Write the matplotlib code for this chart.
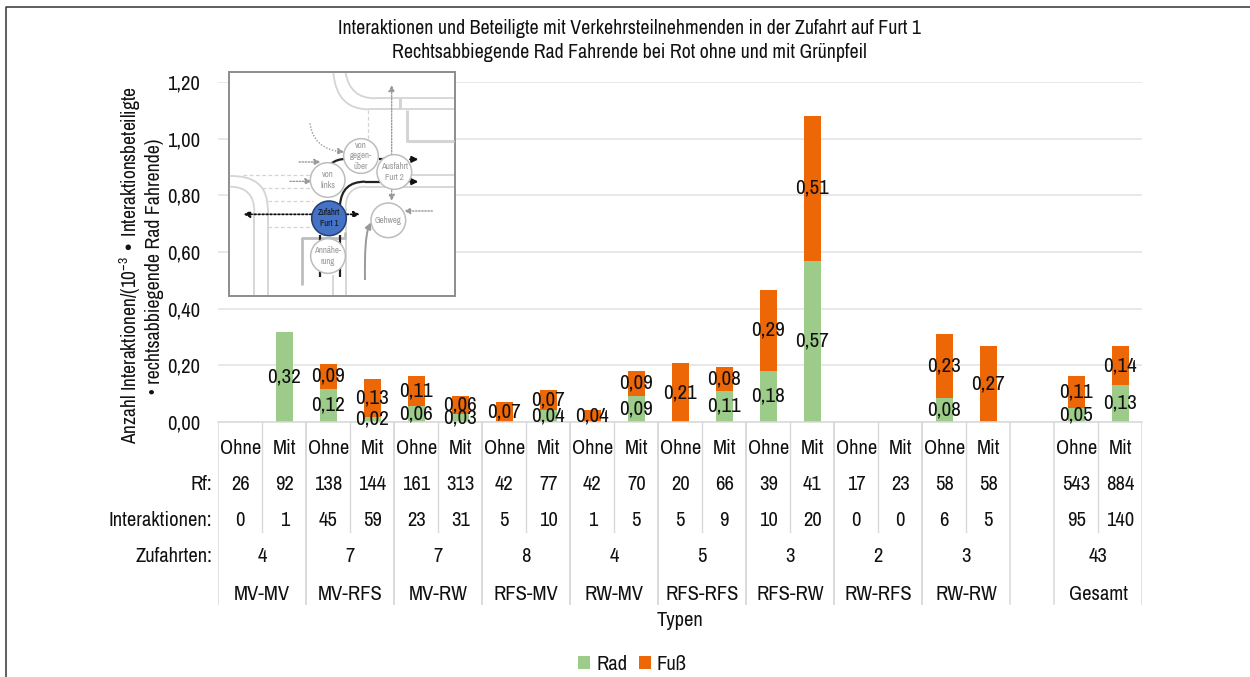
"""
Interaktionen je Typ (Zufahrt auf Furt 1) - gestapelte Balken mit Tabelle und Skizze
"""
import numpy as np
import matplotlib
matplotlib.use('Agg')
import matplotlib.pyplot as plt
from matplotlib.lines import Line2D
from matplotlib.patches import Circle, PathPatch, Rectangle
from matplotlib.path import Path

plt.rcParams['font.family'] = ['Archivo Narrow', 'Liberation Sans', 'DejaVu Sans']
plt.rcParams['mathtext.default'] = 'regular'

# Data
typen = ['MV-MV', 'MV-RFS', 'MV-RW', 'RFS-MV', 'RW-MV', 'RFS-RFS', 'RFS-RW', 'RW-RFS', 'RW-RW', 'Gesamt']
zufahrten = [4, 7, 7, 8, 4, 5, 3, 2, 3, 43]
varianten = ['Ohne', 'Mit'] * 10
rf = [26, 92, 138, 144, 161, 313, 42, 77, 42, 70, 20, 66, 39, 41, 17, 23, 58, 58, 543, 884]
interaktionen = [0, 1, 45, 59, 23, 31, 5, 10, 1, 5, 5, 9, 10, 20, 0, 0, 6, 5, 95, 140]
rad = [0, 0.318, 0.117, 0.018, 0.056, 0.027, 0, 0.042, 0, 0.092,
       0, 0.11, 0.18, 0.57, 0, 0, 0.084, 0, 0.048, 0.131]
fuss = [0, 0, 0.089, 0.133, 0.108, 0.063, 0.072, 0.071, 0.041, 0.088,
        0.208, 0.083, 0.286, 0.51, 0, 0, 0.226, 0.27, 0.114, 0.136]
y_ticks = [0, 0.2, 0.4, 0.6, 0.8, 1.0, 1.2]

GREEN = '#9DCC8A'
ORANGE = '#EE6706'
GRID = '#E2E2E2'
SEP = '#D9D9D9'
W, H = 1250, 677
FS = 14.8

# Slots: 9 Typen, eine Leerspalte, dann Gesamt
x_pos = np.array(list(range(18)) + [19, 20])


def comma(v):
    return f'{v:.2f}'.replace('.', ',')


def box(left, top, right, bottom):
    return [left / W, 1 - bottom / H, (right - left) / W, (bottom - top) / H]


fig = plt.figure(figsize=(W / 100, H / 100), dpi=100, facecolor='white')

# Frame of the picture
fig.add_artist(Line2D([6 / W, 6 / W, 1], [0, 1 - 7 / H, 1 - 7 / H], color='#333333', lw=1.1))

# ===== Main chart =====
ax = fig.add_axes(box(218.3, 82, 1142.3, 422))
centers = x_pos + 0.5
bars_rad = ax.bar(centers, rad, width=0.4, color=GREEN, label='Rad')
bars_fuss = ax.bar(centers, fuss, width=0.4, bottom=rad, color=ORANGE, label='Fuß')
ax.set_xlim(0, 21)
ax.set_ylim(0, 1.2)
ax.set_yticks(y_ticks)
ax.set_yticklabels([comma(v) for v in y_ticks], fontsize=FS, color='#111111')
ax.set_xticks([])
ax.tick_params(axis='y', length=0, pad=13)
ax.grid(axis='y', color=GRID, lw=1.1)
ax.set_axisbelow(True)
for name in ['top', 'right', 'left']:
    ax.spines[name].set_visible(False)
ax.spines['bottom'].set_color(SEP)
ax.spines['bottom'].set_linewidth(1.1)

for bars, vals in [(bars_rad, rad), (bars_fuss, fuss)]:
    labels = [comma(v) if v > 0 else '' for v in vals]
    for t in ax.bar_label(bars, labels=labels, label_type='center', fontsize=15.2, color='#111111'):
        t.set_clip_on(False)

fig.text(130 / W, 1 - 265 / H, 'Anzahl Interaktionen/(10$^{-3}$ • Interaktionsbeteiligte',
         rotation=90, ha='center', va='center', fontsize=14, color='#111111')
fig.text(155 / W, 1 - 266 / H, '• rechtsabbiegende Rad Fahrende)',
         rotation=90, ha='center', va='center', fontsize=14.3, color='#111111')

fig.text(629 / W, 1 - 29 / H, 'Interaktionen und Beteiligte mit Verkehrsteilnehmenden in der Zufahrt auf Furt 1',
         ha='center', va='center', fontsize=14.3, color='#111111')
fig.text(629 / W, 1 - 52 / H, 'Rechtsabbiegende Rad Fahrende bei Rot ohne und mit Grünpfeil',
         ha='center', va='center', fontsize=14.3, color='#111111')

# ===== Table under the axis (x in slots, y in pixels) =====
tab = fig.add_axes(box(218.3, 0, 1142.3, H))
tab.set_xlim(0, 21)
tab.set_ylim(H, 0)
tab.axis('off')

ROW_VAR, ROW_RF, ROW_INT, ROW_ZUF, ROW_TYP = 448, 484, 521, 557, 594
for c, v, r, n in zip(centers, varianten, rf, interaktionen):
    tab.text(c, ROW_VAR, v, ha='center', va='center', fontsize=FS, color='#111111')
    tab.text(c, ROW_RF, str(r), ha='center', va='center', fontsize=FS, color='#111111')
    tab.text(c, ROW_INT, str(n), ha='center', va='center', fontsize=FS, color='#111111')
for x0, t, z in zip(x_pos[::2], typen, zufahrten):
    tab.text(x0 + 1, ROW_ZUF, str(z), ha='center', va='center', fontsize=FS, color='#111111')
    tab.text(x0 + 1, ROW_TYP, t, ha='center', va='center', fontsize=FS, color='#111111')
    tab.plot([x0 + 1, x0 + 1], [422, 532], color=SEP, lw=1)
    tab.plot([x0, x0], [422, 604], color=SEP, lw=1.1)
    tab.plot([x0 + 2, x0 + 2], [422, 604], color=SEP, lw=1.1)

for y, s in [(ROW_RF, 'Rf:'), (ROW_INT, 'Interaktionen:'), (ROW_ZUF, 'Zufahrten:')]:
    tab.text(-0.14, y, s, ha='right', va='center', fontsize=FS, color='#111111')
tab.text(10.5, 620, 'Typen', ha='center', va='center', fontsize=FS, color='#111111')

fig.legend(handles=[bars_rad, bars_fuss], loc='center', bbox_to_anchor=(632.5 / W, 1 - 664.5 / H),
           ncol=2, frameon=False, fontsize=FS, handlelength=0.58, handleheight=0.58,
           handletextpad=0.3, columnspacing=0.55, labelcolor='#111111')

# ===== Sketch of the junction (coordinates in sketch pixels) =====
ins = fig.add_axes(box(225, 65, 465, 305), zorder=5)
ins.set_xlim(0, 720)
ins.set_ylim(720, 0)
ins.axis('off')
ins.add_patch(Rectangle((12, 22), 678, 670, facecolor='white', edgecolor='#8C8C8C', lw=1.4, zorder=1))


def curve(p0, p1, p2, color='#D4D4D4', lw=1.3, ls='-', z=2):
    ins.add_patch(PathPatch(Path([p0, p1, p2], [Path.MOVETO, Path.CURVE3, Path.CURVE3]),
                            fill=False, edgecolor=color, lw=lw, ls=ls, zorder=z))


def line(xs, ys, color='#D4D4D4', lw=1.3, ls='-', z=2):
    ins.plot(xs, ys, color=color, lw=lw, ls=ls, zorder=z, solid_capstyle='butt')


def arrow(p0, p1, color='#999999', lw=1.0, ls=(0, (1, 1.2)), z=3):
    ins.annotate('', xy=p1, xytext=p0, zorder=z,
                 arrowprops=dict(arrowstyle='-|>', color=color, lw=lw, ls=ls,
                                 mutation_scale=9, shrinkA=0, shrinkB=0))


# Kerbs
curve((325, 24), (335, 133), (430, 133))
curve((362, 24), (375, 100), (450, 100))
line([430, 688], [133, 133])
line([450, 688], [100, 100])
line([525, 525], [100, 133], lw=2.2)
line([547, 547, 688], [135, 227, 227], lw=2.2)
curve((14, 333), (128, 330), (128, 430))
curve((14, 365), (88, 365), (88, 440))
line([128, 128], [430, 690])
line([88, 88], [440, 690])
curve((362, 430), (362, 365), (420, 365))
line([362, 362], [430, 690])
line([420, 688], [365, 365])
line([465, 688], [330, 330])
line([325, 325], [630, 690])
line([232, 232, 360, 360], [660, 520, 520, 500], color='#BDBDBD', lw=2.0)
for xs, ys in [([55, 255], [330, 330]), ([110, 260], [368, 368]), ([128, 265], [408, 408]),
               ([130, 262], [487, 487]), ([430, 430], [135, 225])]:
    line(xs, ys, ls=(0, (3, 2)), lw=0.9)

# Grey movements
curve((255, 175), (265, 250), (345, 260), color='#999999', lw=1.0, ls=(0, (1, 1.2)), z=3)
arrow((340, 259), (358, 261))
arrow((222, 291), (287, 291))
arrow((195, 349), (260, 349))
arrow((500, 270), (500, 60))
arrow((500, 375), (500, 408))
arrow((622, 438), (537, 438))
curve((420, 645), (418, 520), (430, 490), color='#999999', lw=1.4)
arrow((428, 494), (438, 472), ls='-', lw=1.4)

# Black movements
line([284, 284], [510, 635], color='#222222', lw=1.6)
line([346, 346], [510, 635], color='#222222', lw=1.6)
curve((320, 295), (335, 283), (358, 282), color='#222222', lw=1.6)
curve((345, 420), (350, 350), (420, 350), color='#222222', lw=1.6)
line([420, 465], [350, 350], color='#222222', lw=1.6)
line([462, 480], [283, 283], color='#222222', lw=1.6)
arrow((555, 283), (580, 283), color='#111111', ls='-', lw=1.4)
arrow((555, 350), (580, 350), color='#111111', ls='-', lw=1.4)
arrow((260, 448), (55, 448), color='#111111', lw=1.3)
arrow((365, 448), (405, 448), color='#111111', lw=1.3)

# Nodes
nodes = [(408, 273, 'von\ngegen-\nüber'), (308, 345, 'von\nlinks'), (508, 321, 'Ausfahrt\nFurt 2'),
         (490, 466, 'Gehweg'), (309, 573, 'Annähe-\nrung')]
for x, y, s in nodes:
    ins.add_patch(Circle((x, y), 52, facecolor='white', edgecolor='#BDBDBD', lw=1.1, zorder=4))
    ins.text(x, y, s, ha='center', va='center', fontsize=6.4, color='#999999', zorder=6, linespacing=1.25)
ins.add_patch(Circle((312, 460), 52, facecolor='#4472C4', edgecolor='#24406F', lw=1.1, zorder=4))
ins.text(312, 460, 'Zufahrt\nFurt 1', ha='center', va='center', fontsize=6.2, color='#111111', zorder=6, linespacing=1.25)

plt.savefig('out.png', dpi=100, facecolor='white')
